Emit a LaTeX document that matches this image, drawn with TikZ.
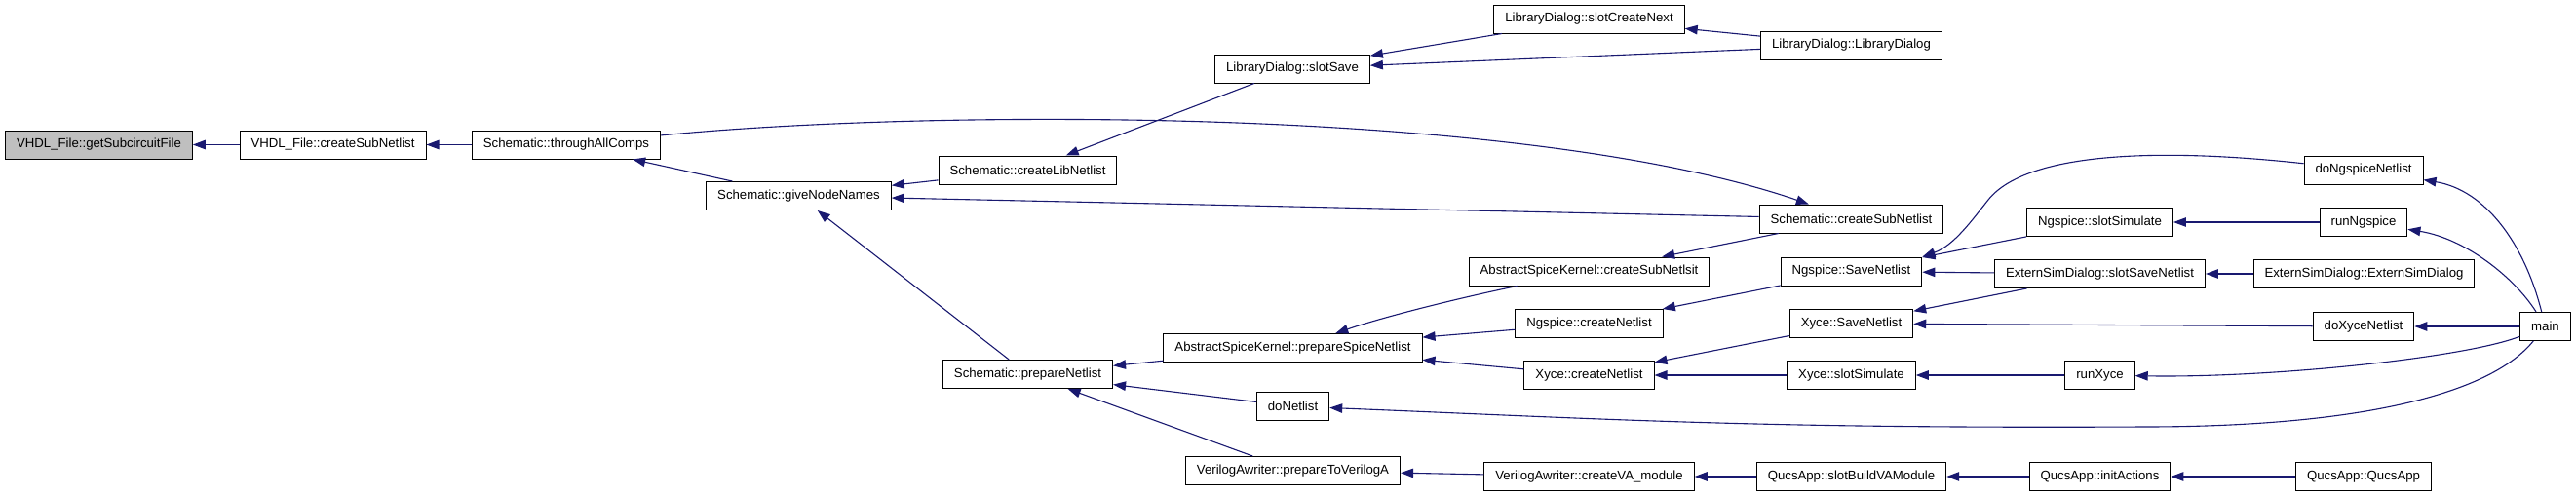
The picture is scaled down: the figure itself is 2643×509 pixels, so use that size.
\documentclass[tikz,border=0pt]{standalone}
\usepackage{fontspec}
\newfontfamily\doxfont{Liberation Sans}
\usetikzlibrary{arrows.meta}
\definecolor{cedge}{HTML}{191970}
\definecolor{cgrey}{HTML}{BFBFBF}
\tikzset{
  every picture/.style={x=1pt, y=-1pt, line width=1pt},
  fn/.style={draw=black, fill=#1, font=\doxfont\fontsize{13.2}{15}\selectfont, minimum height=29pt, inner xsep=11.5pt, inner ysep=0pt},
  fn/.default=white,
  call/.style={-{Triangle[length=13pt, width=9.5pt]}, draw=cedge, line width=1.1pt},
}

\begin{document}
\begin{tikzpicture}
  \useasboundingbox (0,0) rectangle (2643,509);
  % the function itself
  \node[fn=cgrey] (getsub) at (101.5,148.5) {VHDL\_File::getSubcircuitFile};
  % callers, rank by rank
  \foreach \n/\x/\y/\lbl in {
      vhdlsub/341.5/148.5/VHDL\_File::createSubNetlist,
      through/581/148.5/Schematic::throughAllComps,
      givenames/819.5/201/Schematic::giveNodeNames,
      libnet/1054.5/174.5/Schematic::createLibNetlist,
      prepnet/1054.5/384/Schematic::prepareNetlist,
      slotsave/1326/70.5/LibraryDialog::slotSave,
      spiceprep/1326.5/357/AbstractSpiceKernel::prepareSpiceNetlist,
      donet/1326.5/417/doNetlist,
      vaprep/1326.5/483/VerilogAwriter::prepareToVerilogA,
      createnext/1630.5/19.5/LibraryDialog::slotCreateNext,
      spicesub/1630.5/278.5/AbstractSpiceKernel::createSubNetlsit,
      ngcreate/1630.5/332/Ngspice::createNetlist,
      xycreate/1630.5/385/Xyce::createNetlist,
      vamodule/1630.5/489/VerilogAwriter::createVA\_module,
      libdialog/1899.5/46.5/LibraryDialog::LibraryDialog,
      schsub/1899.5/224.5/Schematic::createSubNetlist,
      ngsave/1899.5/278.5/Ngspice::SaveNetlist,
      xysave/1899.5/332/Xyce::SaveNetlist,
      xysim/1899.5/385/Xyce::slotSimulate,
      buildva/1899.5/489/QucsApp::slotBuildVAModule,
      ngsim/2154.5/228/Ngspice::slotSimulate,
      extsave/2154.5/281/ExternSimDialog::slotSaveNetlist,
      runxyce/2154.5/385/runXyce,
      initact/2154.5/489/QucsApp::initActions,
      dongspice/2425/174.5/doNgspiceNetlist,
      runngspice/2425/228/runNgspice,
      extdialog/2425.5/281/ExternSimDialog::ExternSimDialog,
      doxyce/2425/335/doXyceNetlist,
      qucsapp/2425/489/QucsApp::QucsApp,
      mainfn/2611.5/335/main}
    \node[fn] (\n) at (\x,\y) {\lbl};
  % straight calls
  \foreach \a/\b in {vhdlsub/getsub, through/vhdlsub, givenames/through,
      libnet/givenames, schsub/givenames, prepnet/givenames, slotsave/libnet,
      createnext/slotsave, libdialog/createnext, libdialog/slotsave,
      spiceprep/prepnet, donet/prepnet, vaprep/prepnet, ngcreate/spiceprep,
      xycreate/spiceprep, schsub/spicesub, ngsave/ngcreate, xysave/xycreate,
      xysim/xycreate, vamodule/vaprep, ngsim/ngsave, extsave/ngsave,
      extsave/xysave, doxyce/xysave, runxyce/xysim, buildva/vamodule,
      initact/buildva, qucsapp/initact, runngspice/ngsim, extdialog/extsave,
      mainfn/doxyce}
    \draw[call] (\a) -- (\b);
  % curved calls
  \draw[call] (through) .. controls (950,112) and (1560,108) .. (schsub);
  \draw[call] (spicesub) .. controls (1500,305) and (1420,325) .. (spiceprep);
  \draw[call] (dongspice) .. controls (2220,152) and (2080,155) .. (2040,205)
    .. controls (2024,225) and (2005,252) .. (ngsave.north east);
  \draw[call] (mainfn) .. controls (2590,250) and (2550,195) .. (dongspice);
  \draw[call] (mainfn) .. controls (2580,285) and (2530,245) .. (runngspice);
  \draw[call] (mainfn) .. controls (2530,367) and (2330,388) .. (runxyce);
  \draw[call] (mainfn) .. controls (2550,410) and (2400,438) .. (2200,438)
    .. controls (1800,440) and (1650,430) .. (donet);
\end{tikzpicture}
\end{document}
